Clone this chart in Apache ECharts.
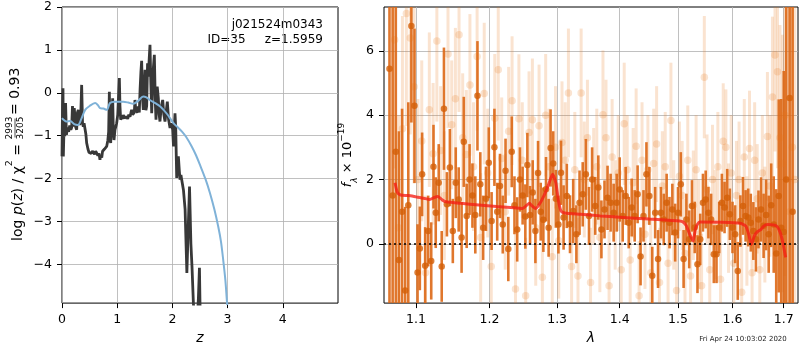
<!DOCTYPE html>
<html>
<head>
<meta charset="utf-8">
<script src="https://cdn.jsdelivr.net/npm/echarts@6/dist/echarts.min.js"></script>
<style>
html, body { margin: 0; padding: 0; background: #fff; }
#wrap { position: relative; width: 800px; height: 350px; background: #fff; }
#pzAxes, #pz { position: absolute; left: 0; top: 0; width: 340px; height: 350px; }
#spec { position: absolute; left: 330px; top: 0; width: 470px; height: 350px; }
</style>
</head>
<body>
<div id="wrap"><div id="pzAxes"></div><div id="pz"></div><div id="spec"></div></div>
<script>
// ---- left panel: log p(z) ----
var zTicks = [0, 1, 2, 3, 4];
var logpTicks = [-4, -3, -2, -1, 0, 1, 2];

var zPz = [0.000, 0.010, 0.018, 0.024, 0.035, 0.050, 0.065, 0.080, 0.100, 0.120, 0.140, 0.160, 0.175, 0.190, 0.205,
    0.222, 0.236, 0.250, 0.266, 0.280, 0.296, 0.320, 0.338, 0.356, 0.372, 0.386, 0.400, 0.417, 0.432, 0.447,
    0.470, 0.490, 0.507, 0.530, 0.550, 0.568, 0.590, 0.610, 0.628, 0.650, 0.670, 0.688, 0.700, 0.720, 0.735,
    0.749, 0.770, 0.790, 0.809, 0.830, 0.845, 0.858, 0.870, 0.882, 0.900, 0.918, 0.930, 0.942, 0.960, 0.975,
    0.990, 1.010, 1.030, 1.039, 1.050, 1.063, 1.080, 1.095, 1.111, 1.130, 1.150, 1.171, 1.190, 1.210, 1.232,
    1.250, 1.262, 1.280, 1.292, 1.310, 1.322, 1.336, 1.352, 1.370, 1.383, 1.400, 1.415, 1.430, 1.443, 1.458,
    1.473, 1.490, 1.504, 1.520, 1.534, 1.550, 1.564, 1.580, 1.594, 1.610, 1.625, 1.650, 1.673, 1.690, 1.703,
    1.725, 1.745, 1.760, 1.775, 1.800, 1.824, 1.845, 1.866, 1.890, 1.908, 1.930, 1.957, 1.980, 2.005, 2.020,
    2.047, 2.060, 2.078, 2.095, 2.108, 2.125, 2.138, 2.155, 2.168, 2.200, 2.230, 2.262, 2.290, 2.310, 2.335,
    2.355, 2.380, 2.400, 2.440, 2.470, 2.490, 2.500, 2.520];
var logPz = [-1.47, -0.30, 0.11, -1.47, -0.90, -1.00, -0.23, -0.97, -0.80, -0.90, -0.75, -0.85, -0.80, -0.30, -0.78,
    -0.35, -0.31, -0.80, -0.85, -0.45, -0.39, -0.74, -0.60, 0.19, -0.70, -0.78, -0.70, -0.70, -0.95, -1.16,
    -1.30, -1.38, -1.36, -1.40, -1.35, -1.39, -1.42, -1.35, -1.36, -1.45, -1.40, -1.55, -1.45, -1.50, -1.35,
    -1.39, -1.30, -1.28, -1.24, -1.10, -0.90, 0.03, -1.05, -1.16, -0.60, -0.12, -0.90, -1.09, -0.85, -0.78,
    -0.70, -0.50, 0.10, 0.35, -0.30, -0.62, -0.55, -0.60, -0.51, -0.58, -0.55, -0.55, -0.60, -0.50, -0.55,
    -0.45, -0.39, -0.50, -0.47, -0.45, -0.16, -0.40, -0.39, -0.45, -0.31, -0.45, 0.10, 0.50, 0.75, -0.10,
    -0.39, 0.10, 0.54, -0.40, -0.30, 0.69, 0.38, 0.80, 1.12, 0.20, -0.47, 0.50, 0.89, -0.20, -0.62,
    0.15, -0.12, -0.50, -0.66, -0.30, -0.16, -0.50, -0.66, -0.40, -0.20, -0.60, -0.81, -0.70, -0.85, -1.24,
    -0.47, -0.80, -1.97, -1.60, -1.47, -1.80, -2.01, -1.90, -2.01, -2.25, -2.70, -4.18, -3.00, -2.17, -3.50,
    -4.03, -4.87, -5.30, -5.50, -4.80, -4.06, -4.90, -5.60];

var zSmooth = [0.00, 0.03, 0.08, 0.15, 0.22, 0.29, 0.35, 0.42, 0.50, 0.60, 0.65, 0.69, 0.75, 0.81, 0.87, 0.95,
    1.11, 1.20, 1.29, 1.38, 1.47, 1.53, 1.59, 1.70, 1.78, 1.90, 2.02, 2.10, 2.17, 2.25, 2.35, 2.43, 2.50,
    2.60, 2.68, 2.76, 2.83, 2.88, 2.92, 2.96, 2.99, 3.02];
var logPzSmooth = [-0.58, -0.62, -0.66, -0.65, -0.72, -0.74, -0.60, -0.39, -0.30, -0.23, -0.28, -0.35, -0.36, -0.39,
    -0.23, -0.20, -0.20, -0.22, -0.25, -0.18, -0.08, -0.10, -0.16, -0.24, -0.31, -0.48, -0.70, -0.80, -0.89,
    -1.02, -1.24, -1.45, -1.67, -2.00, -2.32, -2.70, -3.10, -3.45, -3.87, -4.35, -4.87, -5.30];

// ---- right panel: spectrum ----
var lamTicks = [1.1, 1.2, 1.3, 1.4, 1.5, 1.6, 1.7];
var fluxTicks = [0, 2, 4, 6];

var lamSpec = [1.066, 1.070, 1.074, 1.078, 1.082, 1.086, 1.090, 1.094, 1.098, 1.102, 1.105, 1.108, 1.112, 1.116,
    1.120, 1.123, 1.126, 1.130, 1.134, 1.137, 1.141, 1.145, 1.149, 1.153, 1.157, 1.161, 1.164, 1.168, 1.172,
    1.176, 1.180, 1.183, 1.187, 1.191, 1.195, 1.199, 1.203, 1.207, 1.211, 1.215, 1.219, 1.223, 1.227, 1.232,
    1.236, 1.240, 1.244, 1.248, 1.252, 1.255, 1.259, 1.263, 1.267, 1.271, 1.275, 1.279, 1.283, 1.287, 1.290,
    1.294, 1.298, 1.302, 1.306, 1.310, 1.315, 1.320, 1.325, 1.330, 1.335, 1.340, 1.345, 1.350, 1.355, 1.360,
    1.365, 1.370, 1.375, 1.380, 1.385, 1.390, 1.395, 1.400, 1.405, 1.410, 1.415, 1.420, 1.425, 1.430, 1.435,
    1.440, 1.445, 1.450, 1.455, 1.460, 1.465, 1.470, 1.475, 1.480, 1.485, 1.490, 1.495, 1.500, 1.505, 1.510,
    1.515, 1.520, 1.525, 1.530, 1.535, 1.540, 1.545, 1.550, 1.555, 1.560, 1.565, 1.570, 1.575, 1.580, 1.585,
    1.590, 1.595, 1.600, 1.605, 1.610, 1.615, 1.620, 1.625, 1.630, 1.635, 1.640, 1.645, 1.650, 1.655, 1.660,
    1.665, 1.670, 1.675, 1.680, 1.685, 1.690, 1.695, 1.700, 1.705, 1.712, 1.718];
var fluxSpec = [5.44, 1.5, 2.86, -0.5, 1.0, -1.45, 1.2, 6.77, 4.29, -0.89, -0.14, 2.16, -0.68, 0.40,
    -0.53, 2.4, 0.97, 1.90, -0.70, 4.2, 1.23, 2.37, 0.40, 1.90, 1.38, 0.2, 3.17, 0.87, 2.0,
    1.5, 0.9, 4.6, 1.85, 0.5, 1.4, 2.52, 0.71, 3.0, 1.0, 1.80, 0.6, 2.27, -0.16, 2.86,
    1.2, 0.45, 2.0, 1.5, 0.85, 2.45, 0.9, 1.6, 0.4, 2.2, 1.0, 0.75, 1.7, 0.5, 2.98,
    2.5, 1.4, 0.6, 2.21, 0.82, 1.49, 0.61, 1.02, 0.30, 1.28, 1.54, 2.16, 0.87, 2.0, 1.18,
    1.75, 0.45, 1.07, 1.43, 1.28, 0.97, 1.28, 1.69, 0.87, 1.49, 0.66, 1.13, 0.87, 1.54, -0.39,
    0.87, 2.16, 1.49, -0.99, 0.97, -0.47, 0.97, 0.76, 1.28, 0.66, 1.07, 0.35, 0.97, 1.85, -0.47,
    0.76, 0.14, 1.18, 0.51, -0.63, 0.14, 1.28, 1.38, 0.97, 0.76, -0.32, -0.32, 0.51, 1.28, 1.13,
    1.43, 0.92, 0.51, 0.30, -0.84, 0.71, 1.18, 0.87, 0.82, 0.66, 0.40, 0.14, 0.76, 1.07, 0.56,
    0.9, 0.3, 1.2, 0.6, -0.3, 1.49, 0.5, 0.37, 2.0, 4.53, 1.0];
var errSpec = [9, 7, 5, 4, 3.2, 2.6, 3.2, 3.0, 2.4, 1.5, 1.3, 1.3, 1.2, 1.1,
    1.2, 1.3, 1.1, 1.2, 1.1, 1.9, 1.0, 1.2, 1.0, 1.1, 1.0, 1.1, 1.4, 1.0, 1.1,
    1.0, 1.2, 1.7, 1.0, 1.0, 1.0, 1.1, 0.9, 1.2, 0.9, 1.0, 0.9, 1.0, 1.0, 1.1,
    0.9, 1.0, 1.0, 0.9, 1.0, 1.0, 0.9, 1.0, 1.0, 1.0, 0.9, 1.0, 1.0, 0.9, 1.2,
    1.0, 0.9, 0.9, 1.0, 1.0, 1.0, 0.9, 1.0, 0.9, 1.0, 1.0, 1.1, 0.9, 1.0, 0.9,
    1.0, 0.9, 0.9, 1.0, 0.9, 0.9, 0.9, 1.0, 0.8, 0.9, 0.8, 0.9, 0.8, 0.9, 0.9,
    0.8, 1.0, 0.9, 0.9, 0.8, 0.9, 0.8, 0.8, 0.9, 0.8, 0.8, 0.9, 0.8, 1.0, 0.9,
    0.8, 0.9, 0.8, 0.8, 0.9, 0.8, 0.9, 0.9, 0.8, 0.8, 0.9, 0.9, 0.8, 0.9, 0.8,
    0.9, 0.8, 0.8, 0.9, 0.9, 0.8, 0.9, 0.8, 0.9, 0.9, 0.9, 1.0, 0.9, 1.0, 1.0,
    1.1, 1.2, 1.3, 1.5, 2.0, 3.0, 4.0, 5.0, 6.0, 8.0, 9.0];

var lamRaw = [1.0725, 1.0775, 1.0825, 1.0875, 1.0925, 1.0975, 1.1025, 1.1075, 1.1125, 1.1175, 1.1225, 1.1275,
    1.1325, 1.1375, 1.1425, 1.1475, 1.1525, 1.1575, 1.1625, 1.1675, 1.1725, 1.1775, 1.1825, 1.1875, 1.1925,
    1.1975, 1.2025, 1.2075, 1.2125, 1.2175, 1.2225, 1.2275, 1.2325, 1.2375, 1.2425, 1.2475, 1.2525, 1.2575,
    1.2625, 1.2675, 1.2725, 1.2775, 1.2825, 1.2875, 1.2925, 1.2975, 1.3025, 1.3075, 1.3125, 1.3175, 1.3225,
    1.3275, 1.3325, 1.3375, 1.3425, 1.3475, 1.3525, 1.3575, 1.3625, 1.3675, 1.3725, 1.3775, 1.3825, 1.3875,
    1.3925, 1.3975, 1.4025, 1.4075, 1.4125, 1.4175, 1.4225, 1.4275, 1.4325, 1.4375, 1.4425, 1.4475, 1.4525,
    1.4575, 1.4625, 1.4675, 1.4725, 1.4775, 1.4825, 1.4875, 1.4925, 1.4975, 1.5025, 1.5075, 1.5125, 1.5175,
    1.5225, 1.5275, 1.5325, 1.5375, 1.5425, 1.5475, 1.5525, 1.5575, 1.5625, 1.5675, 1.5725, 1.5775, 1.5825,
    1.5875, 1.5925, 1.5975, 1.6025, 1.6075, 1.6125, 1.6175, 1.6225, 1.6275, 1.6325, 1.6375, 1.6425, 1.6475,
    1.6525, 1.6575, 1.6625, 1.6675, 1.6725, 1.6775, 1.6825, 1.6875, 1.6925, 1.6975, 1.7025, 1.7075, 1.7125,
    1.7175, 1.7225];
var fluxRaw = [6.34, 0.5, 3.58, 7.16, 6.4, 4.88, 2.0, 3.2, -0.9, 4.17, 2.8, 6.3,
    2.9, 1.5, 5.9, 3.7, 4.51, 6.5, 3.3, 2.78, 4.94, 2.4, 5.82, 0.2, 4.67,
    2.2, -0.7, 3.9, 5.41, 2.65, 1.0, 3.5, 4.45, -1.4, 3.89, 2.6, -1.61, 3.46,
    3.86, 0.5, 3.67, -1.04, 4.0, 2.4, -0.4, 3.0, 0.1, 3.15, 2.6, 4.69, -0.7,
    2.3, -1.0, 4.69, 2.0, 3.3, -1.2, 1.8, 2.4, 0.2, 4.01, 3.3, -1.3, 2.7,
    0.9, 2.2, -0.8, 3.73, 2.3, -0.5, 1.9, 3.03, -1.61, 2.6, 0.3, 2.3, -0.9,
    2.5, 3.1, -1.2, 1.8, 2.4, -0.6, 3.83, 0.9, -1.45, 2.1, 1.5, -0.3, 2.6,
    -1.0, 1.2, 2.3, 0.3, -1.3, 5.18, 1.7, -0.8, 2.0, 0.6, 2.4, -1.1, 3.19,
    3.0, 0.8, 2.2, -0.6, 1.5, 2.0, -1.5, 2.7, 0.4, 2.96, -0.9, 2.6, 1.4,
    -0.8, 2.2, 0.6, 3.34, 1.8, 4.56, 5.87, 5.35, 3.3, 2.5, 4.0, 2.0, 1.0,
    3.0, 2.0];
var errRaw = [4.0, 3.5, 3.5, 3.5, 3.0, 3.0, 2.5, 2.5, 2.4, 2.4, 2.2, 2.5,
    2.0, 2.0, 2.3, 2.0, 2.2, 2.4, 2.0, 2.0, 2.2, 2.0, 2.3, 2.0, 2.2,
    2.0, 1.8, 2.0, 2.2, 1.9, 1.8, 2.0, 2.0, 1.8, 2.0, 1.8, 1.8, 1.9,
    1.9, 1.8, 1.9, 1.8, 1.9, 1.8, 1.8, 1.9, 1.8, 1.9, 1.8, 2.0, 1.7,
    1.8, 1.8, 2.0, 1.8, 1.8, 1.7, 1.8, 1.8, 1.7, 2.0, 1.8, 1.7, 1.8,
    1.7, 1.8, 1.7, 1.9, 1.7, 1.7, 1.7, 1.8, 1.7, 1.8, 1.7, 1.7, 1.7,
    1.7, 1.8, 1.7, 1.7, 1.7, 1.7, 1.8, 1.7, 1.7, 1.7, 1.7, 1.7, 1.7,
    1.7, 1.7, 1.7, 1.7, 1.6, 1.9, 1.7, 1.7, 1.7, 1.7, 1.7, 1.7, 1.8,
    1.8, 1.7, 1.8, 1.7, 1.7, 1.8, 1.7, 1.8, 1.7, 1.8, 1.7, 1.8, 1.7,
    1.7, 1.8, 1.8, 2.0, 2.2, 2.5, 3.0, 3.0, 3.5, 4.0, 5.0, 6.0, 7.0,
    8.0, 8.0];

var lamModel = [1.073, 1.076, 1.080, 1.090, 1.100, 1.110, 1.118, 1.124, 1.129, 1.135, 1.140, 1.160, 1.185,
    1.210, 1.230, 1.248, 1.254, 1.258, 1.262, 1.267, 1.272, 1.280, 1.287, 1.293, 1.298, 1.302, 1.306, 1.312,
    1.336, 1.368, 1.400, 1.450, 1.503, 1.509, 1.515, 1.521, 1.527, 1.532, 1.539, 1.580, 1.614, 1.625, 1.631,
    1.636, 1.642, 1.648, 1.655, 1.660, 1.668, 1.686, 1.693, 1.698, 1.704];
var fluxModel = [1.90, 1.60, 1.52, 1.50, 1.46, 1.42, 1.38, 1.44, 1.47, 1.36, 1.31, 1.26, 1.21,
    1.16, 1.13, 1.10, 1.20, 1.26, 1.18, 1.10, 1.20, 1.50, 1.85, 2.16, 1.90, 1.35, 1.02, 0.96,
    0.92, 0.87, 0.83, 0.77, 0.71, 0.68, 0.56, 0.30, 0.09, 0.51, 0.68, 0.67, 0.64, 0.56, 0.30,
    -0.02, 0.25, 0.38, 0.45, 0.55, 0.60, 0.55, 0.35, 0.05, -0.42];

// ---- helpers ----
var FONT = 'DejaVu Sans';
var GRID_GREY = '#b0b0b0';
function minus(v) { return String(v).replace('-', '\u2212'); }
function zip(a, b, c) {
    return a.map(function (v, i) { return c ? [v, b[i], c[i]] : [v, b[i]]; });
}
function errBar(color, w) {
    return function (params, api) {
        var x = api.value(0), f = api.value(1), e = api.value(2);
        var lo = api.coord([x, f - e]), hi = api.coord([x, f + e]);
        return {
            type: 'line',
            shape: { x1: lo[0], y1: lo[1], x2: hi[0], y2: hi[1] },
            style: { stroke: color, lineWidth: w }
        };
    };
}
function gridLine() { return { show: true, lineStyle: { color: GRID_GREY, width: 0.8 } }; }
function ticks(vals) {
    return { show: true, inside: false, length: 5, customValues: vals, lineStyle: { color: '#000', width: 1 } };
}
function labels(vals, fmt) {
    return { customValues: vals, margin: 10, formatter: fmt, color: '#000', fontFamily: FONT, fontSize: 12.5 };
}
function noLine() { return { show: false, onZero: false }; }
function axisName(t) {
    return { name: t, nameLocation: 'middle', nameGap: 27,
        nameTextStyle: { color: '#000', fontFamily: FONT, fontSize: 14, fontStyle: 'italic' } };
}
var pzGrid = { left: 62, top: 7, width: 276, height: 297 };

// ===== left panel, frame: box, grid lines, ticks, labels =====
var pzAxes = echarts.init(document.getElementById('pzAxes'));
pzAxes.setOption({
    animation: false,
    backgroundColor: '#fff',
    grid: Object.assign({ show: true, borderColor: '#000', borderWidth: 1 }, pzGrid),
    xAxis: Object.assign({
        type: 'value', min: 0, max: 5,
        axisLine: noLine(), axisTick: ticks(zTicks), axisLabel: labels(zTicks, minus),
        splitLine: gridLine()
    }, axisName('z')),
    yAxis: {
        type: 'value', min: -4.9, max: 2,
        axisLine: noLine(), axisTick: ticks(logpTicks), axisLabel: labels(logpTicks, minus),
        splitLine: gridLine()
    },
    series: [{ type: 'line', data: [], silent: true }],
    graphic: [
        {
            type: 'group', x: 15, y: 242, rotation: Math.PI / 2,
            children: [
                {
                    type: 'text', style: {
                        x: 98, y: 0, align: 'right', verticalAlign: 'middle', fill: '#000',
                        text: '{r|log }{i|p}{r|(}{i|z}{r|) / χ}{s|2}{r| =}',
                        rich: {
                            r: { fontFamily: FONT, fontSize: 14, lineHeight: 20, verticalAlign: 'bottom' },
                            i: { fontFamily: FONT, fontSize: 14, fontStyle: 'italic', lineHeight: 20, verticalAlign: 'bottom' },
                            s: { fontFamily: FONT, fontSize: 9.5, verticalAlign: 'top' }
                        }
                    }
                },
                { type: 'text', style: { x: 114, y: -5.5, align: 'center', verticalAlign: 'middle', text: '2993', fontFamily: FONT, fontSize: 9, fill: '#000' } },
                { type: 'line', shape: { x1: 104.5, y1: 0, x2: 123.5, y2: 0 }, style: { stroke: '#000', lineWidth: 0.7 } },
                { type: 'text', style: { x: 114, y: 6, align: 'center', verticalAlign: 'middle', text: '3205', fontFamily: FONT, fontSize: 9, fill: '#000' } },
                { type: 'text', style: { x: 127, y: 0, align: 'left', verticalAlign: 'middle', text: '= 0.93', fontFamily: FONT, fontSize: 14, fill: '#000' } }
            ]
        },
        { type: 'text', style: { x: 323, y: 25, align: 'right', verticalAlign: 'middle', text: 'j021524m0343', fontFamily: FONT, fontSize: 12, fill: '#000' } },
        { type: 'text', style: { x: 323, y: 39.5, align: 'right', verticalAlign: 'middle', text: 'ID=35     z=1.5959', fontFamily: FONT, fontSize: 12, fill: '#000' } }
    ]
});

// ===== left panel, curves (same grid, transparent, on top) =====
var pzChart = echarts.init(document.getElementById('pz'));
pzChart.setOption({
    animation: false,
    backgroundColor: 'transparent',
    grid: Object.assign({ show: false }, pzGrid),
    xAxis: { type: 'value', min: 0, max: 5, show: false },
    yAxis: { type: 'value', min: -4.9, max: 2, show: false },
    series: [
        {
            name: 'p(z)', type: 'line',
            data: zip(zPz, logPz), showSymbol: false, symbol: 'none', clip: true,
            lineStyle: { color: '#383838', width: 2.8 }
        },
        {
            name: 'p(z) smooth', type: 'line',
            data: zip(zSmooth, logPzSmooth), showSymbol: false, symbol: 'none', clip: true, smooth: 0.3,
            lineStyle: { color: '#7fb2d8', width: 2 }
        }
    ]
});

// ===== right panel: spectrum =====
var specChart = echarts.init(document.getElementById('spec'));
specChart.setOption({
    animation: false,
    backgroundColor: 'transparent',
    grid: { left: 54, top: 7, width: 414, height: 297, show: true, borderColor: '#000', borderWidth: 1 },
    xAxis: Object.assign({
        type: 'log', logBase: 10, min: 1.0591, max: 1.729,
        axisLine: noLine(), axisTick: ticks(lamTicks),
        axisLabel: labels(lamTicks, function (v) { return v.toFixed(1); }),
        splitLine: gridLine(),
        minorTick: { show: false }, minorSplitLine: { show: false }
    }, axisName('λ')),
    yAxis: {
        type: 'value', min: -1.84, max: 7.36,
        axisLine: noLine(), axisTick: ticks(fluxTicks), axisLabel: labels(fluxTicks, minus),
        splitLine: gridLine()
    },
    series: [
        {
            name: 'raw err', type: 'custom', clip: true,
            data: zip(lamRaw, fluxRaw, errRaw),
            renderItem: errBar('rgba(232,113,20,0.2)', 3)
        },
        {
            name: 'raw', type: 'scatter', clip: true,
            data: zip(lamRaw, fluxRaw), symbolSize: 7.5,
            itemStyle: { color: 'rgba(232,113,20,0.25)' }
        },
        {
            name: 'spec err', type: 'custom', clip: true,
            data: zip(lamSpec, fluxSpec, errSpec),
            renderItem: errBar('rgba(221,104,22,0.9)', 2.6)
        },
        {
            name: 'spec', type: 'scatter', clip: true,
            data: zip(lamSpec, fluxSpec), symbolSize: 6.5,
            itemStyle: { color: '#d35f08' }
        },
        {
            name: 'model', type: 'line', clip: true,
            data: zip(lamModel, fluxModel), showSymbol: false, symbol: 'none', smooth: 0.2,
            lineStyle: { color: 'rgba(245,30,20,0.78)', width: 3 },
            markLine: {
                silent: true, symbol: 'none', label: { show: false },
                lineStyle: { color: '#000', width: 1.5, type: [2, 3] },
                data: [{ yAxis: 0 }]
            }
        }
    ],
    graphic: [
        {
            type: 'text', x: 18, y: 155, rotation: Math.PI / 2,
            style: {
                x: 0, y: 0, align: 'center', verticalAlign: 'middle', fill: '#000',
                text: '{i|f}{s|λ}{r| × 10}{p|−19}',
                rich: {
                    i: { fontFamily: FONT, fontSize: 13, fontStyle: 'italic', lineHeight: 22, verticalAlign: 'middle' },
                    s: { fontFamily: FONT, fontSize: 9, fontStyle: 'italic', verticalAlign: 'bottom' },
                    r: { fontFamily: FONT, fontSize: 13, lineHeight: 22, verticalAlign: 'middle' },
                    p: { fontFamily: FONT, fontSize: 9, verticalAlign: 'top' }
                }
            }
        },
        { type: 'text', style: { x: 413, y: 339, align: 'center', verticalAlign: 'middle', text: 'Fri Apr 24 10:03:02 2020', fontFamily: FONT, fontSize: 7, fill: '#222' } }
    ]
});
</script>
</body>
</html>
